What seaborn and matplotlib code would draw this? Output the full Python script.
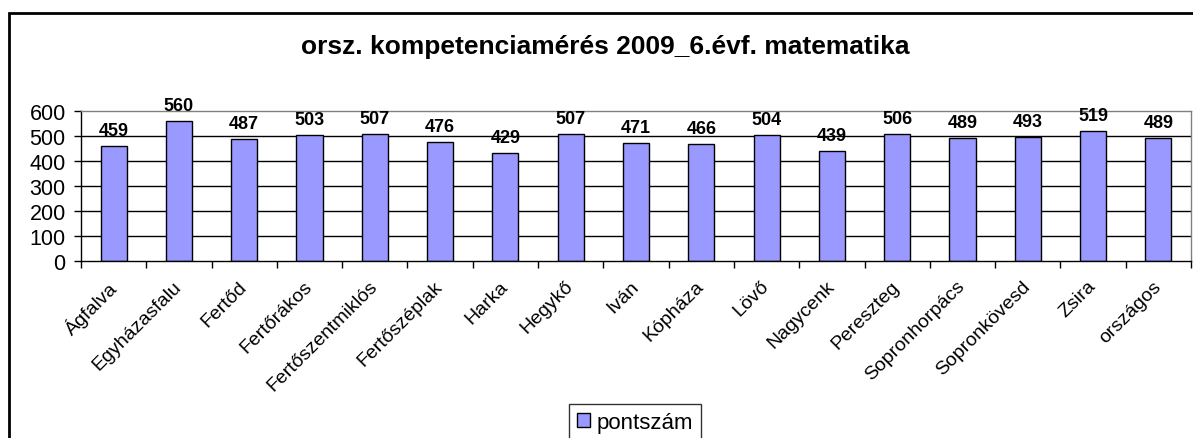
import numpy as np
import pandas as pd
import matplotlib.pyplot as plt
import seaborn as sns
from matplotlib.patches import Rectangle
from matplotlib.transforms import ScaledTranslation

sns.set_theme(style="white")
plt.rcParams["font.family"] = ["Liberation Sans", "DejaVu Sans"]
plt.rcParams["text.color"] = "black"
plt.rcParams["xtick.color"] = "black"
plt.rcParams["ytick.color"] = "black"

# data
telepules = ["Ágfalva", "Egyházasfalu", "Fertőd", "Fertőrákos", "Fertőszentmiklós",
             "Fertőszéplak", "Harka", "Hegykő", "Iván", "Kópháza", "Lövő", "Nagycenk",
             "Pereszteg", "Sopronhorpács", "Sopronkövesd", "Zsira", "országos"]
pontszam = [459, 560, 487, 503, 507, 476, 429, 507, 471, 466, 504, 439, 506, 489, 493, 519, 489]
y_ticks = [0, 100, 200, 300, 400, 500, 600]
title = "orsz. kompetenciamérés 2009_6.évf. matematika"
series_name = "pontszám"

df = pd.DataFrame({"telepules": telepules, "pontszam": pontszam})

fig = plt.figure(figsize=(11.93, 4.39), dpi=100)
ax = fig.add_axes([0.0679, 0.404, 0.9304, 0.3417])

sns.barplot(data=df, x="telepules", y="pontszam", color="#9999FF", saturation=1,
            edgecolor="black", linewidth=1, width=0.4, ax=ax)

ax.set_xlim(-0.5, len(telepules) - 0.5)
ax.set_ylim(0, 600)
ax.set_yticks(y_ticks)
ax.set_yticklabels([str(v) for v in y_ticks], fontsize=15.5)
ax.set_xlabel("")
ax.set_ylabel("")

# horizontal gridlines
for v in y_ticks[1:-1]:
    ax.axhline(v, color="black", linewidth=1, zorder=0)

# spines
for s in ["top", "right"]:
    ax.spines[s].set_color("#808080")
    ax.spines[s].set_linewidth(1)
for s in ["left", "bottom"]:
    ax.spines[s].set_color("black")
    ax.spines[s].set_linewidth(1)

# x tick labels at centres, tick marks at category boundaries
ax.set_xticks(range(len(telepules)))
ax.set_xticklabels(telepules, rotation=45, ha="right", rotation_mode="anchor", fontsize=14)
ax.tick_params(axis="x", which="major", length=0, pad=12)
shift = ScaledTranslation(-6 / 100, 0, fig.dpi_scale_trans)
for lbl in ax.get_xticklabels():
    lbl.set_transform(lbl.get_transform() + shift)
ax.set_xticks(np.arange(-0.5, len(telepules), 1), minor=True)
ax.tick_params(axis="x", which="minor", length=5, width=1, color="black", direction="out", bottom=True)
ax.tick_params(axis="y", length=5, width=1, color="black", direction="out", left=True, pad=6)

# data labels
for i, v in enumerate(pontszam):
    ax.annotate(str(v), (i, v), xytext=(0, 5), textcoords="offset points",
                ha="center", va="bottom", fontsize=13, fontweight="bold")

fig.text(605 / 1193, 0.893, title, ha="center", va="center", fontsize=19, fontweight="bold")

# legend at the bottom, partly cut off like the original
leg = fig.legend(handles=ax.patches[:1], labels=[series_name], loc="upper center",
                 bbox_to_anchor=(635 / 1193, 1 - 405 / 439), frameon=True, fancybox=False,
                 fontsize=16, handlelength=0.6, handleheight=0.6, handletextpad=0.3,
                 borderpad=0.35, borderaxespad=0)
leg.get_frame().set_edgecolor("black")
leg.get_frame().set_linewidth(1)

# outer chart frame
fig.patches.append(Rectangle((9 / 1193, -0.1), 1.05, 0.968 + 0.1, transform=fig.transFigure,
                             fill=False, edgecolor="black", linewidth=2, zorder=0))

fig.savefig("out.png", dpi=100)
